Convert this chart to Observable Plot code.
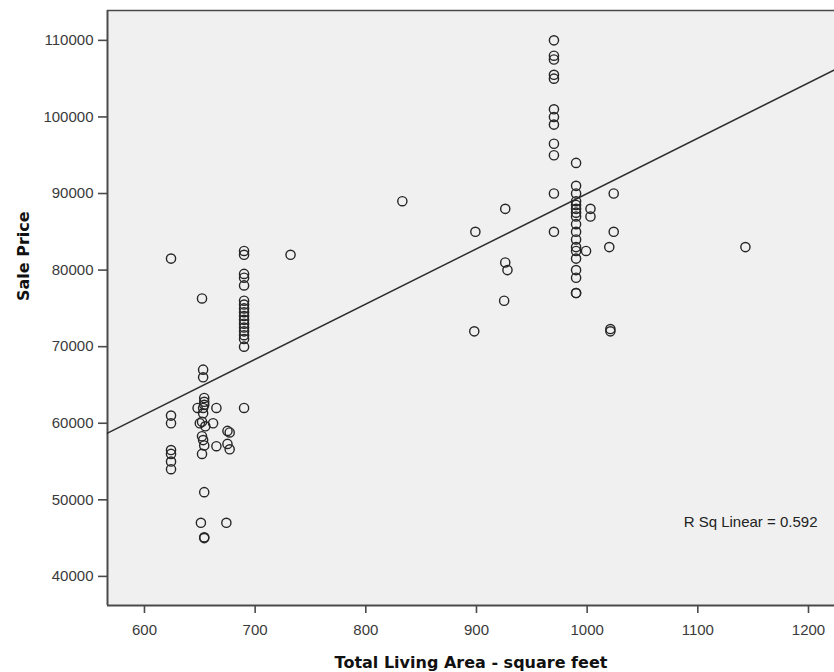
<!DOCTYPE html>
<html>
<head>
<meta charset="utf-8">
<script src="https://cdn.jsdelivr.net/npm/d3@7"></script>
<script src="https://cdn.jsdelivr.net/npm/@observablehq/plot@0.6"></script>
<style>
  html, body { margin: 0; padding: 0; background: #ffffff; }
  #chart svg { display: block; }
</style>
</head>
<body>
<div id="chart"></div>
<script>
// Total living area (square feet) of each sale
const area = [
  624, 624, 624, 624, 624, 624, 624,
  648, 652, 653, 653, 654, 654, 654, 653, 653, 652, 650, 655, 652, 653, 654, 652, 654, 651, 654, 654,
  662, 665, 665, 675, 677, 675, 677, 674,
  690, 690, 690, 690, 690, 690, 690, 690, 690, 690, 690, 690, 690, 690, 690, 690, 690, 690,
  732, 833, 899, 898, 926, 926, 928, 925,
  970, 970, 970, 970, 970, 970, 970, 970, 970, 970, 970, 970,
  990, 990, 990, 990, 990, 990, 990, 990, 990, 990, 990, 990, 990, 990, 990, 990, 990, 990,
  999, 1003, 1003, 1020, 1024, 1024, 1021, 1021, 1143
];
// Sale price of each sale (same order as area)
const price = [
  81500, 61000, 60000, 56500, 56000, 55000, 54000,
  62000, 76300, 67000, 66000, 63300, 62800, 62400, 62000, 61300, 60200, 60000, 59600, 58300, 57800, 57100, 56000, 51000, 47000, 45000, 45100,
  60000, 62000, 57000, 59000, 58800, 57300, 56600, 47000,
  82500, 82000, 79500, 79000, 78000, 76000, 75500, 75000, 74500, 74000, 73500, 73000, 72500, 72000, 71500, 71000, 70000, 62000,
  82000, 89000, 85000, 72000, 88000, 81000, 80000, 76000,
  110000, 108000, 107500, 105500, 105000, 101000, 100000, 99000, 96500, 95000, 90000, 85000,
  94000, 91000, 90000, 89000, 88500, 88000, 87500, 87000, 86000, 85000, 84000, 83000, 82500, 81500, 80000, 79000, 77000, 77000,
  82500, 88000, 87000, 83000, 90000, 85000, 72000, 72300, 83000
];
const xTicks = [600, 700, 800, 900, 1000, 1100, 1200];
const yTicks = [40000, 50000, 60000, 70000, 80000, 90000, 100000, 110000];
const xDomain = [566.6, 1223.5];
const yDomain = [36200, 113900];
const fitIntercept = 17800;
const fitSlope = 72.2;
const rSqText = "R Sq Linear = 0.592";
const xLabel = "Total Living Area - square feet";
const yLabel = "Sale Price";

const sales = area.map((a, i) => ({area: a, price: price[i]}));
const fitLine = xDomain.map(x => ({area: x, price: fitIntercept + fitSlope * x}));

const font = "Liberation Sans, Arial, sans-serif";
const titleFont = "DejaVu Sans, Verdana, sans-serif";
const axisColor = "#4a4a4a";

const chart = Plot.plot({
  width: 834,
  height: 672,
  marginLeft: 107,
  marginTop: 10,
  marginRight: 0,
  marginBottom: 67,
  style: {fontFamily: font, background: "#ffffff"},
  x: {domain: xDomain},
  y: {domain: yDomain},
  marks: [
    Plot.frame({fill: "#f0f0f0", stroke: null}),
    Plot.ruleY([yDomain[1]], {stroke: axisColor, strokeWidth: 1.6}),
    Plot.ruleY([yDomain[0]], {stroke: axisColor, strokeWidth: 2}),
    Plot.ruleX([xDomain[0]], {stroke: axisColor, strokeWidth: 2}),
    Plot.axisX({ticks: xTicks, tickFormat: d3.format("d"), tickSize: 8, tickPadding: 11, fontSize: 15, color: "#3a3a3a", stroke: axisColor, strokeWidth: 1.6, label: null}),
    Plot.axisY({ticks: yTicks, tickFormat: d3.format("d"), tickSize: 9, tickPadding: 5, fontSize: 15, color: "#3a3a3a", stroke: axisColor, strokeWidth: 1.6, label: null}),
    Plot.line(fitLine, {x: "area", y: "price", stroke: "#2e2e2e", strokeWidth: 1.5}),
    Plot.dot(sales, {x: "area", y: "price", r: 4.6, stroke: "#262626", strokeWidth: 1.4, fill: "none"}),
    Plot.text([rSqText], {frameAnchor: "bottom-right", dx: -17, dy: -79, text: d => d, fontSize: 15, fill: "#222", textAnchor: "end"}),
    Plot.text([xLabel], {frameAnchor: "bottom", dy: 62, text: d => d, fontFamily: titleFont, fontSize: 16, fontWeight: "bold", fill: "#111"}),
    Plot.text([yLabel], {frameAnchor: "left", dx: -84, dy: -7, rotate: -90, text: d => d, fontFamily: titleFont, fontSize: 16, fontWeight: "bold", fill: "#111"})
  ]
});
document.getElementById("chart").appendChild(chart);
</script>
</body>
</html>
